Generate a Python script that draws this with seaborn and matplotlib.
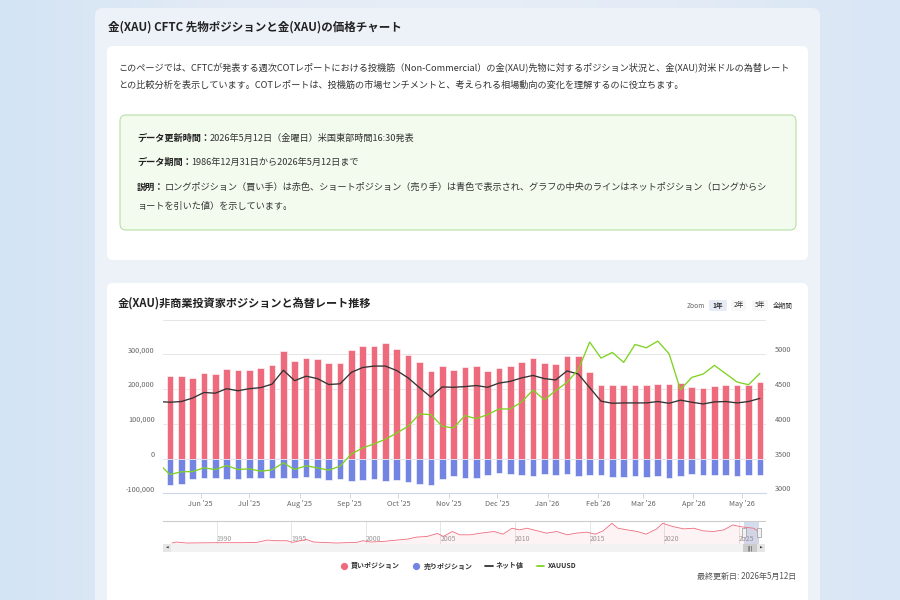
import numpy as np
import pandas as pd
import seaborn as sns
import matplotlib.pyplot as plt
from matplotlib.colors import LinearSegmentedColormap
from matplotlib.patches import FancyBboxPatch, Rectangle
from matplotlib.lines import Line2D

sns.set_theme(style="white")
plt.rcParams["font.family"] = ["Noto Sans CJK JP", "DejaVu Sans"]

# weekly COT report dates (the first one only feeds the lines at the left edge)
dates = pd.date_range("2025-05-06", "2026-05-12", freq="7D")

# non-commercial positions, thousand contracts
long_k = [238,
          237, 237, 232, 246, 244, 259, 254, 256, 260, 269,
          310, 280, 290, 286, 274, 274, 313, 323, 324, 331,
          316, 299, 277, 252, 265, 256,
          263, 267, 252, 260, 267, 278, 288, 274, 272, 296,
          294, 250, 212, 211, 212, 211, 212, 214, 214, 218,
          206, 203, 209, 211, 211, 211, 219]
short_k = [74,
           75, 73, 58, 56, 56, 58, 59, 55, 56, 55,
           56, 56, 53, 56, 61, 59, 65, 61, 58, 65,
           63, 67, 73, 75, 59, 51,
           56, 57, 47, 43, 45, 46, 49, 44, 46, 44,
           51, 46, 47, 52, 52, 51, 52, 50, 55, 50,
           44, 46, 46, 47, 51, 47, 46]
xauusd = [3430,
          3270, 3309, 3313, 3366, 3342, 3400, 3342, 3352, 3318, 3337,
          3438, 3342, 3395, 3366, 3333, 3390, 3567, 3653, 3711, 3778,
          3868, 3964, 4141, 4132, 3964, 3940,
          4117, 4074, 4132, 4213, 4213, 4313, 4486, 4347, 4476, 4596,
          4778, 5175, 4945, 5026, 4883, 5141, 5093, 5189, 5007, 4490,
          4667, 4715, 4840, 4720, 4600, 4562, 4725]

df = pd.DataFrame({"date": dates,
                   "long": np.array(long_k) * 1000,
                   "short": -np.array(short_k) * 1000,
                   "xau": xauusd})
df["net"] = df["long"] + df["short"]

# navigator: long positions over the whole history
nav_year = [1987.0, 1987.3, 1988.0, 1990.0, 1991.8, 1992.7, 1993.4, 1994.0, 1994.7, 1995.1,
            1996.0, 1996.5, 1998.0, 1999.4, 1999.8, 2000.3, 2001.2, 2002.1, 2002.8, 2003.4,
            2004.1, 2004.8, 2005.2, 2005.8, 2006.3, 2007.0, 2007.7, 2008.6, 2009.2, 2009.8,
            2010.3, 2010.8, 2011.5, 2012.1, 2012.8, 2013.5, 2014.1, 2014.8, 2015.4, 2015.9,
            2016.5, 2016.9, 2017.5, 2018.2, 2018.8, 2019.5, 2019.9, 2020.6, 2021.3, 2022.0,
            2022.6, 2023.3, 2024.0, 2024.6, 2025.1, 2025.6, 2026.0, 2026.36]
nav_long = [18, 36, 18, 24, 24, 30, 72, 60, 60, 30,
            84, 36, 18, 30, 60, 36, 48, 72, 90, 126,
            138, 192, 138, 228, 168, 168, 198, 228, 180, 288,
            258, 288, 240, 198, 228, 168, 198, 216, 180, 240,
            378, 288, 258, 228, 180, 276, 378, 318, 276, 288,
            240, 228, 258, 348, 318, 300, 288, 219]

month_ticks = pd.date_range("2025-06-01", "2026-05-01", freq="MS")
nav_years = list(range(1990, 2026, 5))

RED = "#ee6b7e"
BLUE = "#7484e2"
GREEN = "#7ed321"
NET = "#333333"

fig = plt.figure(figsize=(9, 6), dpi=100)

# page, in pixel coordinates
bg = fig.add_axes([0, 0, 1, 1])
page = LinearSegmentedColormap.from_list("page", ["#d3e4f4", "#e3ebf6", "#e8eef7", "#e3ebf6", "#d8e6f5"])
bg.imshow(np.linspace(0, 1, 256)[None, :], cmap=page, extent=(0, 900, 600, 0), aspect="auto", zorder=0)
bg.set_xlim(0, 900)
bg.set_ylim(600, 0)
bg.axis("off")


def box(x0, y0, x1, y1, fc, ec="none", r=6, lw=0.8):
    bg.add_patch(FancyBboxPatch((x0, y0), x1 - x0, y1 - y0, boxstyle=f"round,pad=0,rounding_size={r}",
                                fc=fc, ec=ec, lw=lw, zorder=1))


box(95, 8, 820, 640, "#edf2f9", r=8)
box(107, 46, 808, 260, "white")
box(107, 283, 808, 640, "white")
box(120, 115, 796, 230, "#f3fbef", ec="#b7dfa5", r=6)

bg.text(108, 27, "金(XAU) CFTC 先物ポジションと金(XAU)の価格チャート", fontsize=8.3, weight="bold",
        color="#222222", va="center", zorder=2)
bg.text(118, 67, "このページでは、CFTCが発表する週次COTレポートにおける投機筋（Non-Commercial）の金(XAU)先物に対するポジション状況と、金(XAU)対米ドルの為替レート",
        fontsize=6.6, color="#333333", va="center", zorder=2)
bg.text(118, 85, "との比較分析を表示しています。COTレポートは、投機筋の市場センチメントと、考えられる相場動向の変化を理解するのに役立ちます。",
        fontsize=6.6, color="#333333", va="center", zorder=2)


def info_line(y, head, body):
    t = bg.text(137, y, head, fontsize=6.6, weight="bold", color="#222222", va="center", zorder=2)
    bg.annotate(body, xy=(1, 0.5), xycoords=t, va="center", fontsize=6.6, color="#333333", zorder=2)


info_line(138, "データ更新時間：", "2026年5月12日（金曜日）米国東部時間16:30発表")
info_line(162, "データ期間：", "1986年12月31日から2026年5月12日まで")
info_line(187, "説明：", "ロングポジション（買い手）は赤色、ショートポジション（売り手）は青色で表示され、グラフの中央のラインはネットポジション（ロングからシ")
bg.text(137, 206, "ョートを引いた値）を示しています。", fontsize=6.6, color="#333333", va="center", zorder=2)

bg.text(118, 303, "金(XAU)非商業投資家ポジションと為替レート推移", fontsize=8.0, weight="bold",
        color="#222222", va="center", zorder=2)

# range selector buttons
bg.text(687, 305.5, "Zoom", fontsize=4.8, color="#666666", va="center", zorder=2)
for label, x0, x1, fc, bold in [("1年", 709, 727, "#e6ebf5", True), ("2年", 731, 746, "#f7f7f7", False),
                                ("5年", 752, 768, "#f7f7f7", False), ("全期間", 771, 794, "#ffffff", False)]:
    box(x0, 300, x1, 311, fc, r=1.5)
    bg.text((x0 + x1) / 2, 305.5, label, fontsize=4.8, color="#333333", ha="center", va="center",
            weight="bold" if bold else "normal", zorder=2)

bg.text(796, 576, "最終更新日: 2026年5月12日", fontsize=5.8, color="#555555", ha="right", va="center", zorder=2)

# main chart
ax = fig.add_axes([163 / 900, 1 - 493.3 / 600, 603 / 900, 173.8 / 600])
ax.bar(df["date"], df["long"], width=4.1, color=RED, edgecolor="white", linewidth=0.4, zorder=2)
ax.bar(df["date"], df["short"], width=4.1, color=BLUE, edgecolor="white", linewidth=0.4, zorder=2)
sns.lineplot(data=df, x="date", y="net", ax=ax, color=NET, linewidth=0.95, zorder=3)
ax.set_xlim(pd.Timestamp("2025-05-08 18:00"), pd.Timestamp("2026-05-15 19:00"))
ax.set_ylim(-100000, 400000)
ax.set_yticks([-100000, 0, 100000, 200000, 300000, 400000],
              ["-100,000", "0", "100,000", "200,000", "300,000", ""])
ax.set_xticks(month_ticks, [d.strftime("%b '%y") for d in month_ticks])
ax.set_xlabel("")
ax.set_ylabel("")
ax.grid(axis="y", color="#e6e6e6", linewidth=0.7)
ax.set_axisbelow(True)
for side in ["top", "left", "right"]:
    ax.spines[side].set_visible(False)
ax.spines["bottom"].set_color("#ccd6eb")
ax.spines["bottom"].set_linewidth(0.8)
ax.tick_params(axis="x", bottom=True, length=3.5, width=0.7, color="#ccd6eb",
               labelsize=5.3, labelcolor="#666666", pad=1.5)
ax.tick_params(axis="y", left=False, length=0, labelsize=5.3, labelcolor="#666666", pad=6)
for t in ax.get_yticklabels():
    t.set_va("bottom")

ax2 = ax.twinx()
sns.lineplot(data=df, x="date", y="xau", ax=ax2, color=GREEN, linewidth=0.95, zorder=4)
ax2.set_ylim(3000, 5500)
ax2.set_yticks([3000, 3500, 4000, 4500, 5000, 5500], ["3000", "3500", "4000", "4500", "5000", ""])
ax2.set_ylabel("")
ax2.set_xlabel("")
for side in ax2.spines:
    ax2.spines[side].set_visible(False)
ax2.tick_params(axis="y", right=True, length=0, labelsize=5.3, labelcolor="#666666", pad=6.5)
for t in ax2.get_yticklabels():
    t.set_va("bottom")

# navigator
nav = fig.add_axes([163 / 900, 1 - 544 / 600, 602 / 900, 23 / 600])
nav.set_facecolor("white")
sns.lineplot(x=nav_year, y=nav_long, ax=nav, color=RED, linewidth=0.6)
nav.fill_between(nav_year, nav_long, color=RED, alpha=0.08, linewidth=0)
nav.set_xlim(1986.4, 2026.76)
nav.set_ylim(0, 420)
nav.set_yticks([])
nav.set_xticks(nav_years, [str(y) for y in nav_years])
nav.grid(axis="x", color="#e6e6e6", linewidth=0.7)
for side in ["bottom", "left", "right"]:
    nav.spines[side].set_visible(False)
nav.spines["top"].set_color("#cccccc")
nav.spines["top"].set_linewidth(0.8)
nav.tick_params(axis="x", bottom=False, length=0, pad=-6.5, labelsize=5, labelcolor="#999999")
for t in nav.get_xticklabels():
    t.set_ha("left")
nav.axvspan(2025.36, 2026.36, color="#6685c2", alpha=0.28, linewidth=0)
for hx in [2025.36, 2026.36]:
    nav.add_patch(Rectangle((hx - 0.13, 0.3), 0.26, 0.38, transform=nav.get_xaxis_transform(),
                            fc="#f2f2f2", ec="#999999", lw=0.5, zorder=5))

# scrollbar
sb = fig.add_axes([163 / 900, 1 - 552 / 600, 602 / 900, 8 / 600])
sb.set_xlim(1986.4, 2026.76)
sb.set_ylim(0, 1)
sb.axis("off")
sb.axvspan(1986.4, 2026.76, color="#f2f2f2", linewidth=0)
sb.axvspan(2025.29, 2026.23, color="#cccccc", linewidth=0)
sb.axvspan(1986.4, 1986.94, color="#e6e6e6", linewidth=0)
sb.axvspan(2026.22, 2026.76, color="#e6e6e6", linewidth=0)
sb.text(1986.67, 0.5, "◀", fontsize=2.5, color="#333333", ha="center", va="center", family="DejaVu Sans")
sb.text(2026.49, 0.5, "▶", fontsize=2.5, color="#333333", ha="center", va="center", family="DejaVu Sans")
sb.text(2025.76, 0.5, "|||", fontsize=3.5, color="#333333", ha="center", va="center", family="DejaVu Sans")

# legend
handles = [Line2D([0], [0], marker="o", ls="none", color=RED, markersize=4.2),
           Line2D([0], [0], marker="o", ls="none", color=BLUE, markersize=4.2),
           Line2D([0], [0], color=NET, lw=1.3),
           Line2D([0], [0], color=GREEN, lw=1.3)]
fig.legend(handles, ["買いポジション", "売りポジション", "ネット値", "XAUUSD"], loc="center",
           bbox_to_anchor=(458 / 900, 1 - 566 / 600), ncol=4, frameon=False,
           prop={"size": 5, "weight": "bold"}, labelcolor="#333333",
           handlelength=1.1, handletextpad=0.5, columnspacing=1.8)

fig.savefig("out.png", dpi=100)
